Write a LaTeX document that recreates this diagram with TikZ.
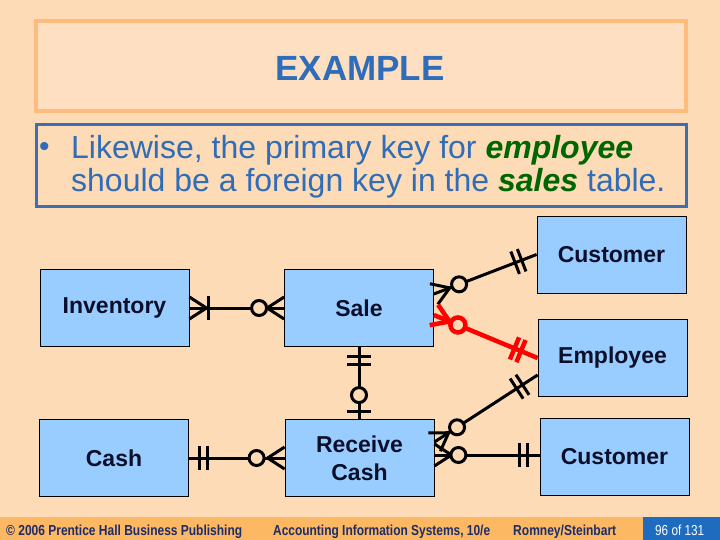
\documentclass[tikz,border=0pt]{standalone}
\usepackage{fontspec}
\usepackage{graphicx}
\setmainfont{Liberation Sans}
\usetikzlibrary{calc}
\definecolor{bgc}{HTML}{FDDBB6}
\definecolor{titlefill}{HTML}{FEDFC2}
\definecolor{titleborder}{HTML}{FDBC7E}
\definecolor{bluetxt}{HTML}{2F6DB8}
\definecolor{boxblue}{HTML}{3D6EB4}
\definecolor{entfill}{HTML}{99CCFF}
\definecolor{enttext}{HTML}{0B0F2A}
\definecolor{darkgreen}{HTML}{006600}
\definecolor{footorange}{HTML}{FDB863}
\definecolor{footblue}{HTML}{1F6BC0}
\definecolor{foottext}{HTML}{1B2D6B}
\definecolor{relred}{HTML}{FF0000}
\newcommand\erCrow[2]{\draw ($(#1)!11pt!90:(#2)$) -- ($(#1)!17pt!(#2)$) -- ($(#1)!11pt!-90:(#2)$);}
\newcommand\erBar[3]{\path ($(#1)!#3!(#2)$) coordinate (erT);
  \draw ($(erT)!12pt!90:(#2)$) -- ($(erT)!12pt!-90:(#2)$);}
\newcommand\erCirc[3]{\path ($(#1)!#3!(#2)$) coordinate (erT);
  \draw[fill=bgc] (erT) circle (7.5pt);}
\tikzset{
  entity/.style={draw=black, line width=0.8pt, fill=entfill, minimum width=149pt,
    minimum height=77pt, inner sep=0pt, text=enttext, align=center,
    font=\fontsize{23}{28}\selectfont\bfseries},
  relblack/.style={line width=3pt, draw=black},
  relredline/.style={line width=4.5pt, draw=relred},
  foot/.style={anchor=base west, text=foottext, inner sep=0pt, font=\bfseries}
}
\begin{document}
\begin{tikzpicture}[x=1pt,y=-1pt]
\useasboundingbox (0,0) rectangle (720,540);
\fill[bgc] (0,0) rectangle (720,540);
% title
\draw[titleborder, line width=4pt, fill=titlefill] (36,21) rectangle (686,111);
\node[text=bluetxt, font=\fontsize{35}{40}\selectfont\bfseries, anchor=base] (title) at (360,81) {EXAMPLE};
% bullet box
\draw[boxblue, line width=3pt] (36,125) rectangle (686,207);
\node[text=bluetxt, font=\fontsize{30}{34}\selectfont, anchor=base west, inner sep=0pt] (bul) at (39,157) {•};
\node[text=bluetxt, font=\fontsize{32}{36}\selectfont, anchor=base west, inner sep=0pt] (l1) at (71,159)
  {Likewise, the primary key for \textcolor{darkgreen}{\bfseries\itshape employee}};
\node[text=bluetxt, font=\fontsize{32}{36}\selectfont, anchor=base west, inner sep=0pt] (l2) at (71,192)
  {should be a foreign key in the \textcolor{darkgreen}{\bfseries\itshape sales} table.};
% entities
\node[entity] (inv) at (114.5,308) {\raisebox{-2pt}{Inventory}};
\node[entity] (sale) at (359,308) {\raisebox{-1pt}{Sale}};
\node[entity] (cust1) at (611.5,254.5) {\raisebox{-1.5pt}{Customer}};
\node[entity] (emp) at (612.5,358) {\raisebox{-1pt}{Employee}};
\node[entity] (cash) at (114,458) {\raisebox{-1pt}{Cash}};
\node[entity] (rc) at (359.5,458) {Receive\\Cash};
\node[entity] (cust2) at (614.5,456.5) {\raisebox{-1.5pt}{Customer}};
% connection points
\coordinate (p2) at ($(sale.east)+(0,-14)$);
\coordinate (p3) at ($(sale.east)+(0,7)$);
\coordinate (p6) at ($(rc.east)+(0,-16)$);
\coordinate (q6) at ($(emp.west)+(0,17)$);
\coordinate (p7) at ($(rc.east)+(0,-3)$);
\coordinate (q7) at (cust2.west |- p7);
\coordinate (s4) at (sale.south);
\coordinate (r4) at (sale.south |- rc.north);
% connectors
\begin{scope}[relblack]
  % Inventory - Sale
  \draw (inv.east) -- (sale.west);
  \erCrow{inv.east}{sale.west}
  \erBar{inv.east}{sale.west}{19pt}
  \erCrow{sale.west}{inv.east}
  \erCirc{sale.west}{inv.east}{25pt}
  % Sale - Customer
  \draw (p2) -- (cust1.west);
  \erCrow{p2}{cust1.west}
  \erCirc{p2}{cust1.west}{27pt}
  \erBar{cust1.west}{p2}{16pt}
  \erBar{cust1.west}{p2}{23pt}
  % Sale - Receive Cash
  \draw (s4) -- (r4);
  \erBar{s4}{r4}{10pt}
  \erBar{s4}{r4}{18pt}
  \erBar{r4}{s4}{8pt}
  \erCirc{r4}{s4}{24pt}
  % Cash - Receive Cash
  \draw (cash.east) -- (rc.west);
  \erBar{cash.east}{rc.west}{11pt}
  \erBar{cash.east}{rc.west}{19pt}
  \erCrow{rc.west}{cash.east}
  \erCirc{rc.west}{cash.east}{28pt}
  % Receive Cash - Employee
  \draw (p6) -- (q6);
  \erCrow{p6}{q6}
  \erCirc{p6}{q6}{27pt}
  \erBar{q6}{p6}{18pt}
  \erBar{q6}{p6}{25pt}
  % Receive Cash - Customer
  \draw (p7) -- (q7);
  \erCrow{p7}{q7}
  \erCirc{p7}{q7}{24pt}
  \erBar{q7}{p7}{12pt}
  \erBar{q7}{p7}{20pt}
\end{scope}
\begin{scope}[relredline]
  % Sale - Employee (red)
  \draw (p3) -- (emp.west);
  \erCrow{p3}{emp.west}
  \erCirc{p3}{emp.west}{26pt}
  \erBar{emp.west}{p3}{18pt}
  \erBar{emp.west}{p3}{25pt}
\end{scope}
% footer
\fill[footorange] (0,517) rectangle (643,540);
\fill[footblue] (643,517) rectangle (720,540);
\node[foot] (f1) at (6,535) {\resizebox{236pt}{10.5pt}{© 2006 Prentice Hall Business Publishing}};
\node[foot] (f2) at (273,535) {\resizebox{217pt}{10.5pt}{Accounting Information Systems, 10/e}};
\node[foot] (f3) at (513,535) {\resizebox{103pt}{10.5pt}{Romney/Steinbart}};
\node[foot, text=white, font=\normalfont] (f4) at (655,535) {\resizebox{49pt}{10.5pt}{96 of 131}};
\end{tikzpicture}
\end{document}
